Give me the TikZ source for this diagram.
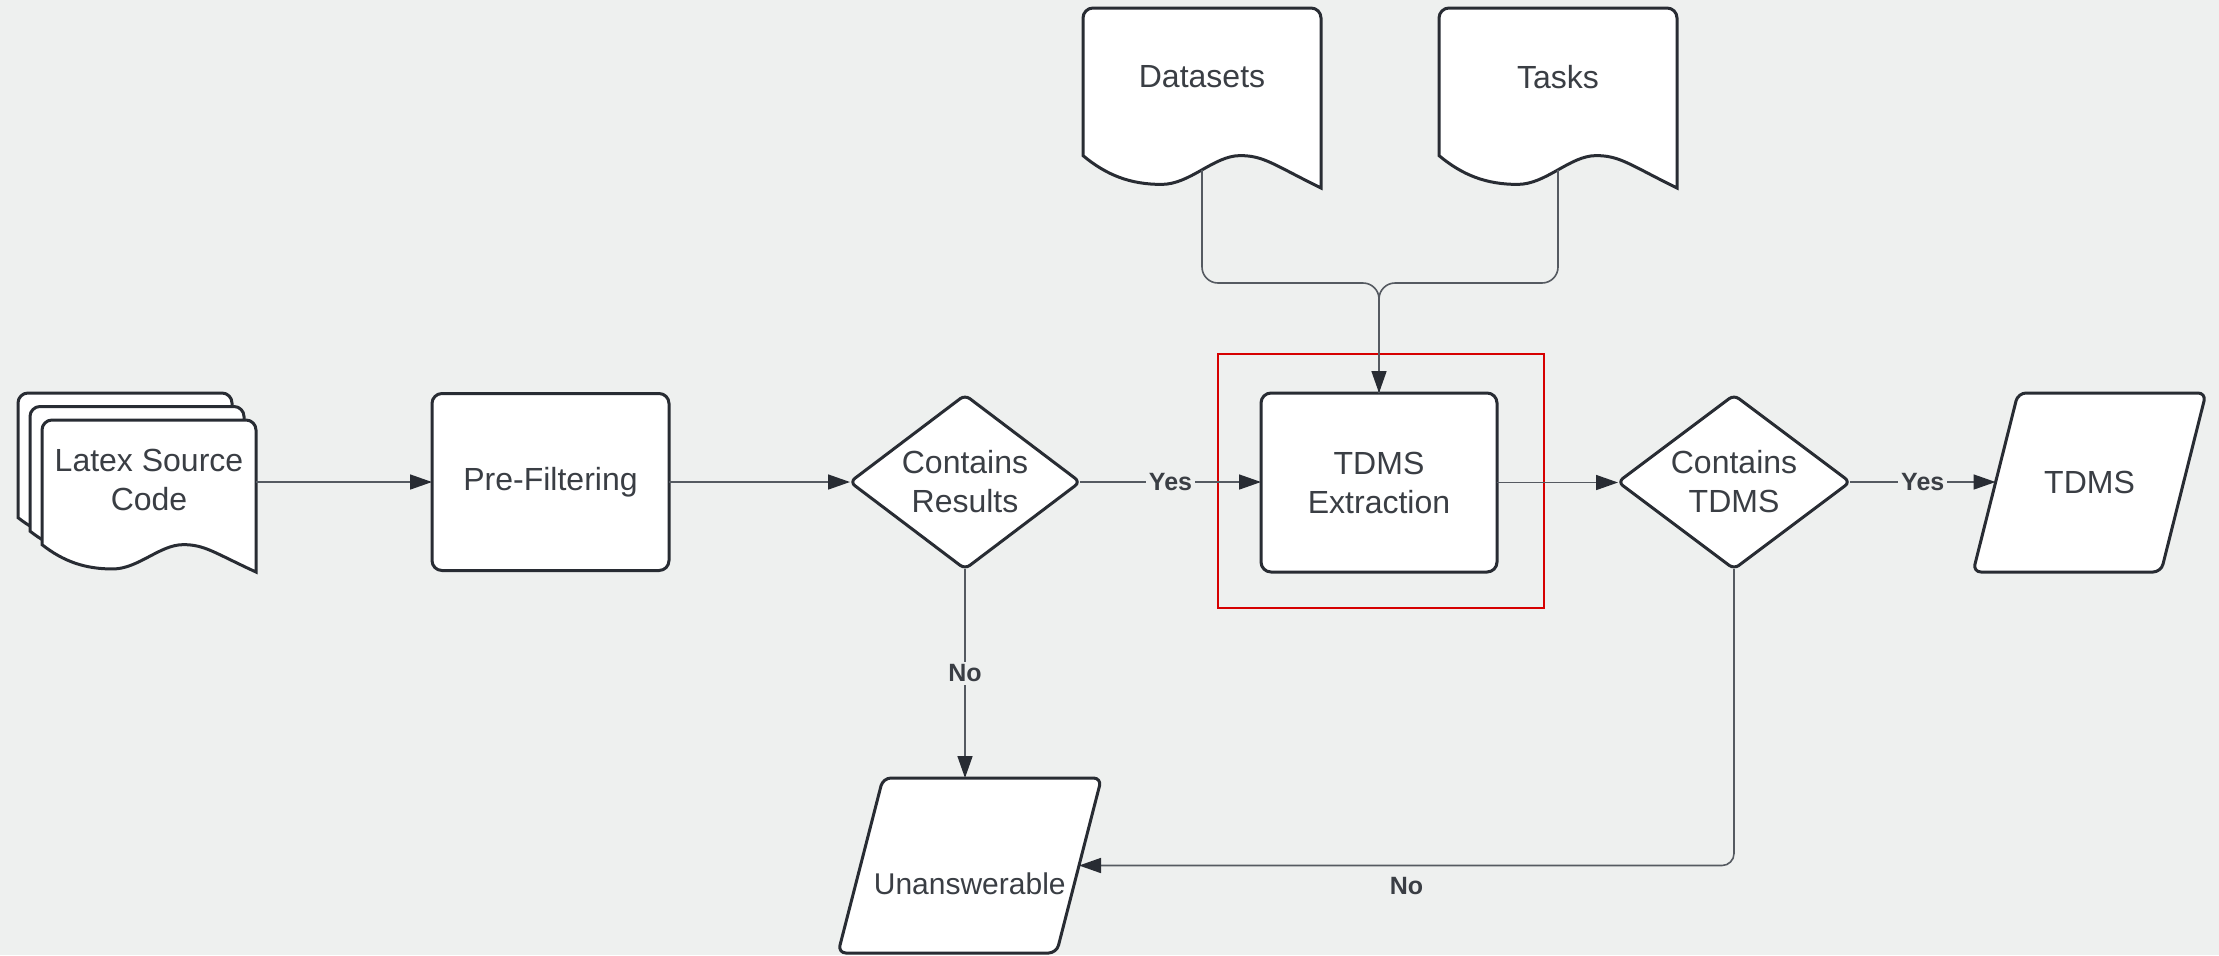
\documentclass[tikz,border=0pt]{standalone}
\usepackage{fontspec}
\setmainfont{Liberation Sans}
\usetikzlibrary{shapes.geometric,arrows.meta,calc}
\definecolor{bg}{RGB}{238,240,239}
\definecolor{edgec}{RGB}{40,44,51}
\definecolor{txtc}{RGB}{58,62,68}
\definecolor{linec}{RGB}{85,90,97}
\definecolor{redc}{RGB}{214,0,0}
\pgfdeclarelayer{bgfill}
\pgfdeclarelayer{shapes}
\pgfsetlayers{bgfill,shapes,main}
\tikzset{
 every node/.style={text=txtc, font=\fontsize{16}{19.5}\selectfont},
 frame/.style={rectangle, draw=none, inner sep=0pt, outer sep=0pt, align=center},
 proc/.style={rectangle, draw=edgec, line width=1.5pt, fill=white, rounded corners=5pt, align=center, inner sep=0pt, outer sep=0pt},
 decision/.style={diamond, aspect=1.34, draw=edgec, line width=1.5pt, fill=white, rounded corners=3pt, align=center, inner sep=0pt, outer sep=0pt},
 docline/.style={draw=edgec, line width=1.5pt, fill=white},
 ioline/.style={draw=edgec, line width=1.5pt, fill=white, rounded corners=4pt},
 conn/.style={draw=linec, line width=0.8pt, -{Triangle[length=11pt,width=7.5pt,color=edgec]}},
 plainconn/.style={draw=linec, line width=0.8pt},
 lbl/.style={font=\bfseries\fontsize{12.5}{14}\selectfont, fill=bg, inner sep=1.5pt},
 redbox/.style={rectangle, draw=redc, line width=1pt, inner sep=0pt, outer sep=0pt},
}
% document shape drawn inside the frame node #1, width #2, height #3 (px units)
\newcommand\docshape[3]{%
 \begin{scope}[shift={(#1.north west)}]
  \draw[docline] (0,{0.82*#3}) [rounded corners=5pt] -- (0,0) -- (#2,0) -- (#2,{0.5*#3}) [sharp corners] -- (#2,#3)
   .. controls ({0.8*#2},{0.87*#3}) and ({0.76*#2},{0.82*#3}) .. ({0.66*#2},{0.82*#3})
   .. controls ({0.55*#2},{0.82*#3}) and ({0.45*#2},{0.98*#3}) .. ({0.33*#2},{0.98*#3})
   .. controls ({0.2*#2},{0.98*#3}) and ({0.1*#2},{0.93*#3}) .. (0,{0.82*#3}) -- cycle;
 \end{scope}}
\newcommand\iobox[2]{%
 \draw[ioline] ([xshift=#2]#1.north west) -- ([xshift=#2]#1.north east) -- ([xshift=-#2]#1.south east) -- ([xshift=-#2]#1.south west) -- cycle;}

\begin{document}
\begin{tikzpicture}[x=0.5pt,y=-0.5pt]
\begin{pgfonlayer}{bgfill}
 \fill[bg] (0,0) rectangle (2219,955);
\end{pgfonlayer}
\useasboundingbox (0,0) rectangle (2219,955);

% highlight frame
\node[redbox, minimum width=163pt, minimum height=127pt] (hl) at (1381,481) {};

% Latex source stack
\node[frame, minimum width=107pt, minimum height=76pt] (lsb1) at (125,469) {};
\node[frame, minimum width=107pt, minimum height=76pt] (lsb2) at (137,482.5) {};
\node[frame, minimum width=107pt, minimum height=76pt] (lsc) at (149,496) {};
\begin{pgfonlayer}{shapes}
 \docshape{lsb1}{214}{152}
 \docshape{lsb2}{214}{152}
 \docshape{lsc}{214}{152}
\end{pgfonlayer}
\node[align=center] (lsct) at (149,480) {Latex Source\\Code};

% datasets and tasks
\node[frame, minimum width=119pt, minimum height=90pt] (ds) at (1202,98) {};
\node[frame, minimum width=119pt, minimum height=90pt] (tk) at (1558,98) {};
\begin{pgfonlayer}{shapes}
 \docshape{ds}{238}{180}
 \docshape{tk}{238}{180}
\end{pgfonlayer}
\node (dst) at (1202,77) {Datasets};
\node (tkt) at (1558,77) {Tasks};

% main flow
\node[proc, minimum width=118.5pt, minimum height=88.5pt] (pre) at (550.5,482) {Pre-Filtering};
\node[decision, minimum width=115pt, minimum height=87pt] (cr) at (965,482) {Contains\\Results};
\node[proc, minimum width=118pt, minimum height=89.5pt] (tex) at (1379,482.5) {TDMS\\Extraction};
\node[decision, minimum width=116pt, minimum height=87pt] (ct) at (1734,482) {Contains\\TDMS};
\node[frame, minimum width=94pt, minimum height=89.5pt] (out) at (2089.5,482.5) {TDMS};
\node[frame, minimum width=109.25pt, minimum height=87.5pt, font=\fontsize{15}{18}\selectfont] (un) at (969.75,865.5) {\raisebox{-14.7pt}[0pt][0pt]{Unanswerable}};
\begin{pgfonlayer}{shapes}
 \iobox{out}{11.25pt}
 \iobox{un}{11.25pt}
\end{pgfonlayer}

% connectors
\coordinate (dsw) at ([yshift=9pt]ds.south);
\coordinate (tkw) at ([yshift=9pt]tk.south);
\coordinate (jn) at (tex.north |- 0,283);
\draw[plainconn, rounded corners=8pt] (tkw) |- (jn) -- (tex.north);
\draw[conn, rounded corners=8pt] (dsw) |- (jn) -- (tex.north);

\draw[conn] (lsc.east |- pre.west) -- (pre.west);
\draw[conn] (pre.east) -- (cr.west);
\draw[conn] (cr.east) -- node[lbl]{Yes} (tex.west |- cr.east);
\draw[conn] (tex.east) -- (ct.west |- tex.east);
\draw[conn] (ct.east) -- node[lbl]{Yes} (out.west |- ct.east);
\draw[conn] (cr.south) -- node[lbl]{No} (cr.south |- un.north);
\draw[conn, rounded corners=6pt] (ct.south) |- node[pos=0.75, below=4pt, lbl, fill=none]{No} (un.east);
\end{tikzpicture}
\end{document}
